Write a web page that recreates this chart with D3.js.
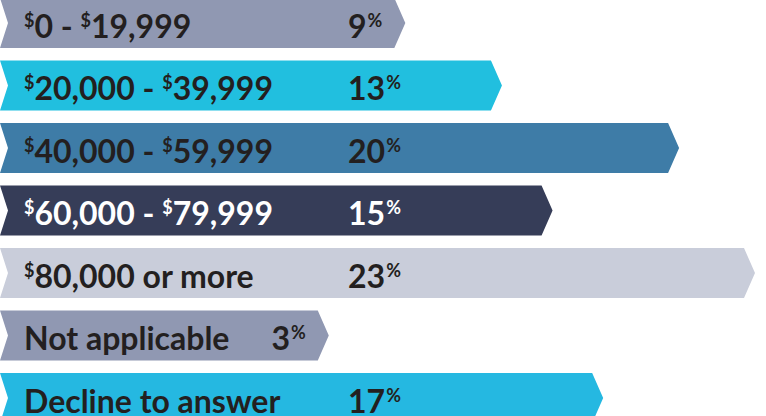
<!DOCTYPE html>
<html>
<head>
<meta charset="utf-8">
<script src="https://cdn.jsdelivr.net/npm/d3@7"></script>
<style>
  body { margin: 0; background: #fff; }
  svg { display: block; font-family: Lato, "Open Sans", sans-serif; font-weight: bold; }
</style>
</head>
<body>
<svg id="income-chart"></svg>
<script>
// Household income bars drawn as arrow-shaped ribbons

const categories = ["$0 - $19,999", "$20,000 - $39,999", "$40,000 - $59,999", "$60,000 - $79,999",
    "$80,000 or more", "Not applicable", "Decline to answer"];
const percents = [9, 13, 20, 15, 23, 3, 17];

const barColors = ["#9098b2", "#21bfdf", "#3e7ca7", "#363d58", "#c9cdda", "#9098b2", "#25b8e1"];
const textColors = ["#231f20", "#231f20", "#231f20", "#ffffff", "#231f20", "#231f20", "#231f20"];

const svgWidth = 766;
const svgHeight = 416;

const labelX = 24;
const pctX = 348;
const notch = 8;
const tip = 11;

const xScale = d3.scaleLinear()
    .domain([0, d3.max(percents)])
    .range([162, 744]);

const yScale = d3.scaleBand()
    .domain(categories)
    .range([-2, 423])
    .paddingInner(0.2);

// split a label so the "$" signs become small raised glyphs
function addSuperText(sel, str, sup) {
    const parts = str.split(sup);
    parts.forEach((p, i) => {
        if (i > 0) {
            sel.append("tspan").attr("font-size", 18).attr("dy", -11).text(sup);
            sel.append("tspan").attr("dy", 11).text(p);
        } else if (p.length) {
            sel.append("tspan").text(p);
        }
    });
}

function drawChart() {
    const svg = d3.select("#income-chart")
        .attr("width", svgWidth)
        .attr("height", svgHeight);

    const rows = svg.selectAll("g.row")
        .data(categories)
        .join("g")
        .attr("class", "row");

    rows.each(function (cat, i) {
        const g = d3.select(this);
        const top = yScale(cat);
        const h = yScale.bandwidth();
        const base = top + 39.5;

        const path = g.append("path").attr("fill", barColors[i]);

        const label = g.append("text")
            .attr("x", labelX)
            .attr("y", base)
            .attr("font-size", 32)
            .attr("fill", textColors[i]);
        addSuperText(label, cat, "$");

        const pct = g.append("text")
            .attr("y", base)
            .attr("font-size", 32)
            .attr("fill", textColors[i]);
        pct.append("tspan").text(percents[i]);
        pct.append("tspan").attr("font-size", 18).attr("dy", -11).attr("dx", 1).text("%");

        const labelEnd = labelX + label.node().getComputedTextLength();
        const pctW = pct.node().getComputedTextLength();
        let px = pctX;
        let end = xScale(percents[i]);
        // short bars pull the value in next to the label and stretch to fit it
        if (end < px + pctW) px = labelEnd + 42;
        end = Math.max(end, px + pctW + 13);
        pct.attr("x", px);

        const mid = top + h / 2;
        path.attr("d", `M0,${top}L${end},${top}L${end + tip},${mid}L${end},${top + h}L0,${top + h}L${notch},${mid}Z`);
    });
}

document.addEventListener("DOMContentLoaded", drawChart);
</script>
</body>
</html>
